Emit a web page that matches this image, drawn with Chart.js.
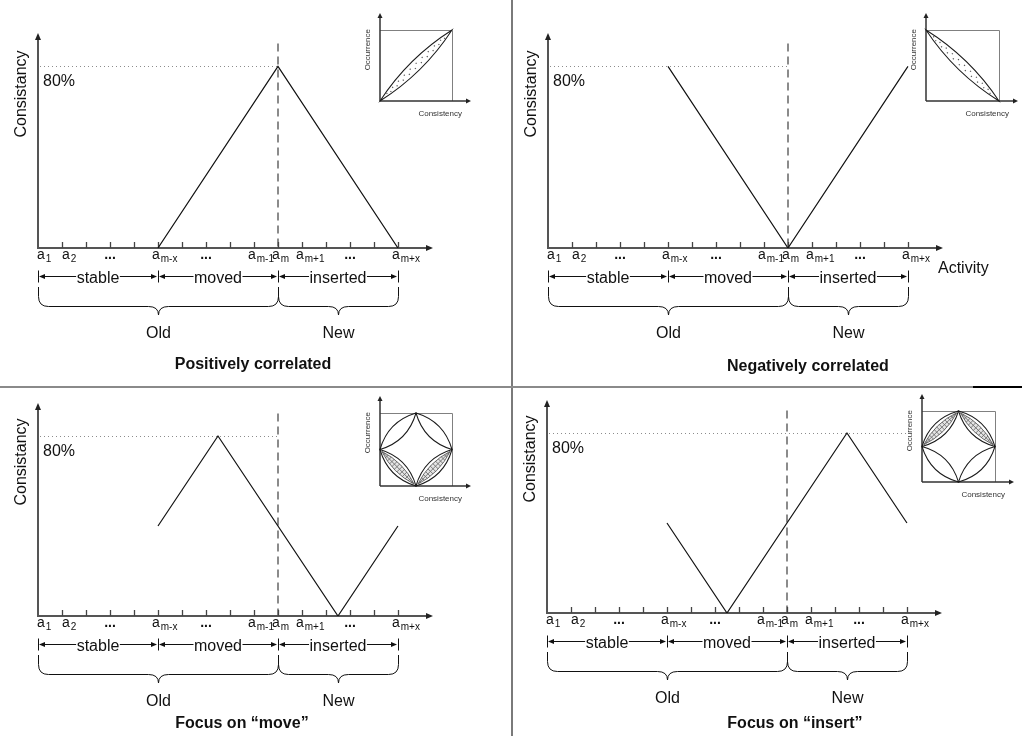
<!DOCTYPE html>
<html>
<head>
<meta charset="utf-8">
<script src="https://cdn.jsdelivr.net/npm/chart.js@4/dist/chart.umd.min.js"></script>
<style>
  html, body { margin: 0; padding: 0; background: #fff; }
  #stage { position: relative; width: 1025px; height: 736px; overflow: hidden; background: #fff; }
  #stage canvas { position: absolute; left: 0; top: 0; }
  .rule { position: absolute; }
</style>
</head>
<body>
<div id="stage">
  <div class="rule" style="left:511px;top:0;width:2px;height:736px;background:#7a7a7a"></div>
  <div class="rule" style="left:0;top:386px;width:973px;height:2px;background:#8a8a8a"></div>
  <div class="rule" style="left:973px;top:386px;width:49px;height:2px;background:#000"></div>
</div>
<script>
const FONT = '"Liberation Sans", Arial, Helvetica, sans-serif';

// Activities along the horizontal axis: a1 ... a(m+x)
const activityCount = 15;      // index of a(m+x)
const pivotActivity = 10;      // index of a(m), first activity of the new model
const tickPositions = [0, 1, 3, 5, 7, 9, 10, 11, 13, 15];
const tickBase      = ['a', 'a', '...', 'a', '...', 'a', 'a', 'a', '...', 'a'];
const tickSub       = ['1', '2', '', 'm-x', '', 'm-1', 'm', 'm+1', '', 'm+x'];

// Ranges under the axis
const segmentBounds = [0, 5, 10, 15];
const segmentNames  = ['stable', 'moved', 'inserted'];
const groupBounds   = [0, 10, 15];
const groupNames    = ['Old', 'New'];

const thresholdValue = 80;
const thresholdLabel = '80%';
const yAxisTitle = 'Consistancy';
const xAxisTitle = 'Activity';

// Consistency per activity for each scenario
const positiveX = [5, 10, 15];
const positiveY = [0, 80, 0];
const negativeX = [5, 10, 15];
const negativeY = [80, 0, 80];
const moveX   = [5, 7.5, 12.5, 15];
const moveY   = [40, 80, 0, 40];
const insertX = [5, 7.5, 12.5, 15];
const insertY = [40, 0, 80, 40];

const panelTitles = ['Positively correlated', 'Negatively correlated',
                     'Focus on \u201cmove\u201d', 'Focus on \u201cinsert\u201d'];

// Occurrence vs consistency sketches: lobes given by their two end points
const lobesPositive = [[0, 0, 1, 1]];
const lobesNegative = [[0, 1, 1, 0]];
const lobesDiamond  = [[0, 0.5, 0.5, 1], [0.5, 1, 1, 0.5], [0, 0.5, 0.5, 0], [0.5, 0, 1, 0.5]];
const fillPositive = ['dots'];
const fillNegative = ['dots'];
const fillMove     = ['plain', 'plain', 'hatch', 'hatch'];
const fillInsert   = ['hatch', 'hatch', 'plain', 'plain'];

const W = 1025, H = 736;
const X_MAX = 16.46, Y_MAX = 94.67;

const panels = [
  { xs: positiveX, ys: positiveY, title: panelTitles[0], area: { left: 38,  top: 33,  right: 433, bottom: 248 }, thresholdTo: 10, titleAt: 8.96, titleDy: 121, showXTitle: false },
  { xs: negativeX, ys: negativeY, title: panelTitles[1], area: { left: 548, top: 33,  right: 943, bottom: 248 }, thresholdTo: 10, titleAt: 10.83, titleDy: 123, showXTitle: true },
  { xs: moveX,     ys: moveY,     title: panelTitles[2], area: { left: 38,  top: 403, right: 433, bottom: 616 }, thresholdTo: 10, titleAt: 8.5,  titleDy: 112, showXTitle: false },
  { xs: insertX,   ys: insertY,   title: panelTitles[3], area: { left: 547, top: 400, right: 942, bottom: 613 }, thresholdTo: 15, titleAt: 10.33, titleDy: 115, showXTitle: false }
];

const insets = [
  { lobes: lobesPositive, fills: fillPositive, area: { left: 380, top: 30,  right: 452, bottom: 101 }, lobeWidth: 11 },
  { lobes: lobesNegative, fills: fillNegative, area: { left: 926, top: 30,  right: 999, bottom: 101 }, lobeWidth: 11 },
  { lobes: lobesDiamond,  fills: fillMove,     area: { left: 380, top: 413, right: 452, bottom: 486 }, lobeWidth: 14 },
  { lobes: lobesDiamond,  fills: fillInsert,   area: { left: 922, top: 411, right: 995, bottom: 482 }, lobeWidth: 14 }
];

const stage = document.getElementById('stage');
function makeCanvas() {
  const c = document.createElement('canvas');
  c.width = W; c.height = H;
  c.style.width = W + 'px'; c.style.height = H + 'px';
  stage.appendChild(c);
  return c;
}

function arrowHead(ctx, x, y, ang, len, half) {
  ctx.save();
  ctx.translate(x, y);
  ctx.rotate(ang);
  ctx.beginPath();
  ctx.moveTo(0, 0);
  ctx.lineTo(-len, -half);
  ctx.lineTo(-len, half);
  ctx.closePath();
  ctx.fill();
  ctx.restore();
}

function drawBrace(ctx, x1, x2, y0, ym, tip) {
  const xc = (x1 + x2) / 2, r = 10;
  ctx.beginPath();
  ctx.moveTo(x1, y0);
  ctx.lineTo(x1, ym - r);
  ctx.quadraticCurveTo(x1, ym, x1 + r, ym);
  ctx.lineTo(xc - r, ym);
  ctx.quadraticCurveTo(xc, ym, xc, tip);
  ctx.quadraticCurveTo(xc, ym, xc + r, ym);
  ctx.lineTo(x2 - r, ym);
  ctx.quadraticCurveTo(x2, ym, x2, ym - r);
  ctx.lineTo(x2, y0);
  ctx.stroke();
}

// lens outline between (-hl,0) and (hl,0) in local coordinates, bulging by w/2
function lensPath(ctx, hl, w) {
  ctx.beginPath();
  ctx.moveTo(-hl, 0);
  ctx.quadraticCurveTo(0, -w, hl, 0);
  ctx.quadraticCurveTo(0, w, -hl, 0);
  ctx.closePath();
}

function panelDecor(p) {
  return {
    id: 'panelDecor',
    beforeDatasetsDraw(chart) {
      const { ctx, scales: { x, y } } = chart;
      const L = x.getPixelForValue(0), R = x.getPixelForValue(x.max);
      const B = y.getPixelForValue(0), T = y.getPixelForValue(y.max);
      ctx.save();
      // threshold guide
      const ty = Math.round(y.getPixelForValue(thresholdValue)) + 0.5;
      ctx.strokeStyle = '#8c8c8c'; ctx.lineWidth = 1; ctx.setLineDash([1, 3]);
      ctx.beginPath(); ctx.moveTo(L + 2, ty); ctx.lineTo(x.getPixelForValue(p.thresholdTo), ty); ctx.stroke();
      // boundary between old and new activities
      const mx = Math.round(x.getPixelForValue(pivotActivity));
      ctx.strokeStyle = '#666'; ctx.lineWidth = 1.5; ctx.setLineDash([8, 5]);
      ctx.beginPath(); ctx.moveTo(mx, y.getPixelForValue(90)); ctx.lineTo(mx, B); ctx.stroke();
      ctx.setLineDash([]);
      // axes
      ctx.strokeStyle = '#555'; ctx.fillStyle = '#222'; ctx.lineWidth = 2;
      ctx.beginPath();
      ctx.moveTo(L, B); ctx.lineTo(L, T + 5);
      ctx.moveTo(L - 1, B); ctx.lineTo(R - 5, B);
      ctx.stroke();
      arrowHead(ctx, L, T, -Math.PI / 2, 7, 3);
      arrowHead(ctx, R, B, 0, 7, 3);
      // tick marks
      ctx.lineWidth = 1.3; ctx.strokeStyle = '#444';
      ctx.beginPath();
      for (let i = 1; i <= activityCount; i++) {
        const px = Math.round(x.getPixelForValue(i)) + 0.5;
        ctx.moveTo(px, B); ctx.lineTo(px, B - 6);
      }
      ctx.stroke();
      ctx.restore();
    },
    afterDraw(chart) {
      const { ctx, scales: { x, y } } = chart;
      const L = x.getPixelForValue(0), R = x.getPixelForValue(x.max);
      const B = y.getPixelForValue(0);
      const px = v => Math.round(x.getPixelForValue(v));
      ctx.save();
      ctx.fillStyle = '#111'; ctx.strokeStyle = '#111';

      // threshold label
      ctx.font = '16px ' + FONT; ctx.textAlign = 'left'; ctx.textBaseline = 'alphabetic';
      ctx.fillText(thresholdLabel, L + 5, y.getPixelForValue(thresholdValue) + 20);

      // y axis title
      ctx.save();
      ctx.translate(L - 16, B - 154);
      ctx.rotate(-Math.PI / 2);
      ctx.textAlign = 'center'; ctx.textBaseline = 'middle';
      ctx.fillText(yAxisTitle, 0, 0);
      ctx.restore();

      if (p.showXTitle) {
        ctx.textAlign = 'left';
        ctx.fillText(xAxisTitle, R - 5, B + 25);
      }

      // activity labels
      tickPositions.forEach((v, i) => {
        const tx = px(v);
        if (tickBase[i] === '...') {
          ctx.font = 'bold 14px ' + FONT; ctx.textAlign = 'center';
          ctx.fillText('...', tx, B + 11);
          return;
        }
        const off = i < 2 ? (i === 0 ? -1 : 0) : -6;
        ctx.font = '14px ' + FONT; ctx.textAlign = 'left';
        ctx.fillText(tickBase[i], tx + off, B + 11);
        const aw = ctx.measureText(tickBase[i]).width;
        ctx.font = '10px ' + FONT;
        ctx.fillText(tickSub[i], tx + off + aw + 1, B + 14);
      });

      // ranges with double-headed arrows
      const ry = B + 28 + 0.5;
      ctx.font = '16px ' + FONT; ctx.textAlign = 'center'; ctx.textBaseline = 'alphabetic';
      ctx.lineWidth = 1;
      segmentNames.forEach((name, s) => {
        const xa = px(segmentBounds[s]), xb = px(segmentBounds[s + 1]);
        const xc = (xa + xb) / 2;
        const tw = ctx.measureText(name).width;
        ctx.beginPath();
        ctx.moveTo(xa + 2, ry); ctx.lineTo(xc - tw / 2 - 0.5, ry);
        ctx.moveTo(xc + tw / 2 + 0.5, ry); ctx.lineTo(xb - 2, ry);
        ctx.stroke();
        arrowHead(ctx, xa + 1, ry, Math.PI, 6, 2.5);
        arrowHead(ctx, xb - 1, ry, 0, 6, 2.5);
        ctx.fillText(name, xc, ry + 6);
      });
      ctx.beginPath();
      segmentBounds.forEach(v => {
        const bx = px(v) + 0.5;
        ctx.moveTo(bx, ry - 6); ctx.lineTo(bx, ry + 6);
      });
      ctx.stroke();

      // braces for old / new
      for (let g = 0; g < groupNames.length; g++) {
        const x1 = px(groupBounds[g]) + 0.5, x2 = px(groupBounds[g + 1]) + 0.5;
        drawBrace(ctx, x1, x2, B + 39, B + 58.5, B + 67);
        ctx.fillText(groupNames[g], (x1 + x2) / 2, B + 90);
      }

      // panel title
      ctx.font = 'bold 16px ' + FONT;
      ctx.fillText(p.title, x.getPixelForValue(p.titleAt), B + p.titleDy);
      ctx.restore();
    }
  };
}

panels.forEach(p => {
  const a = p.area;
  new Chart(makeCanvas(), {
    type: 'line',
    data: {
      datasets: [{
        data: p.xs.map((v, i) => ({ x: v, y: p.ys[i] })),
        borderColor: '#111',
        borderWidth: 1.2,
        pointRadius: 0,
        tension: 0,
        fill: false
      }]
    },
    options: {
      responsive: false,
      animation: false,
      devicePixelRatio: 1,
      events: [],
      layout: { padding: { left: a.left, top: a.top, right: W - a.right, bottom: H - a.bottom } },
      scales: {
        x: { type: 'linear', min: 0, max: X_MAX, display: false },
        y: { type: 'linear', min: 0, max: Y_MAX, display: false }
      },
      plugins: { legend: { display: false }, tooltip: { enabled: false } }
    },
    plugins: [panelDecor(p)]
  });
});

function insetDecor(s) {
  return {
    id: 'insetDecor',
    afterDraw(chart) {
      const { ctx, chartArea: a, scales: { x, y } } = chart;
      ctx.save();
      // frame
      ctx.strokeStyle = '#808080'; ctx.lineWidth = 1;
      ctx.beginPath();
      ctx.moveTo(a.left, a.top + 0.5); ctx.lineTo(a.right + 0.5, a.top + 0.5); ctx.lineTo(a.right + 0.5, a.bottom);
      ctx.stroke();
      ctx.strokeStyle = '#333'; ctx.fillStyle = '#222'; ctx.lineWidth = 1.5;
      ctx.beginPath();
      ctx.moveTo(a.left, a.bottom); ctx.lineTo(a.left, a.top - 13);
      ctx.moveTo(a.left, a.bottom); ctx.lineTo(a.right + 15, a.bottom);
      ctx.stroke();
      arrowHead(ctx, a.left, a.top - 17, -Math.PI / 2, 5, 2.5);
      arrowHead(ctx, a.right + 19, a.bottom, 0, 5, 2.5);

      // lobes
      s.lobes.forEach((l, i) => {
        const x1 = x.getPixelForValue(l[0]), y1 = y.getPixelForValue(l[1]);
        const x2 = x.getPixelForValue(l[2]), y2 = y.getPixelForValue(l[3]);
        const cx = (x1 + x2) / 2, cy = (y1 + y2) / 2;
        const ang = Math.atan2(y2 - y1, x2 - x1);
        const hl = Math.hypot(x2 - x1, y2 - y1) / 2, w = s.lobeWidth;
        ctx.save();
        ctx.translate(cx, cy); ctx.rotate(ang);
        if (s.fills[i] === 'hatch') {
          const ihl = hl * 0.9, iw = w * 0.55;
          ctx.save();
          lensPath(ctx, ihl, iw);
          ctx.fillStyle = '#e4e4e4'; ctx.fill();
          ctx.clip();
          ctx.strokeStyle = '#6a6a6a'; ctx.lineWidth = 0.8;
          ctx.beginPath();
          for (let t = -ihl; t <= ihl; t += 3.6) { ctx.moveTo(t, -iw); ctx.lineTo(t, iw); }
          ctx.moveTo(-ihl, 0); ctx.lineTo(ihl, 0);
          ctx.stroke();
          ctx.restore();
          ctx.strokeStyle = '#555'; ctx.lineWidth = 0.8;
          lensPath(ctx, ihl, iw); ctx.stroke();
        } else if (s.fills[i] === 'dots') {
          ctx.fillStyle = '#555';
          let k = 0;
          for (let t = -hl * 0.8; t <= hl * 0.8; t += 4.2, k++) {
            const off = (k % 2 ? 1.6 : -1.6) * (1 - (t / hl) * (t / hl));
            ctx.fillRect(t - 0.5, off - 0.5, 1.2, 1.2);
          }
        }
        ctx.strokeStyle = '#1a1a1a'; ctx.lineWidth = 1;
        lensPath(ctx, hl, w); ctx.stroke();
        ctx.restore();
      });

      // axis names
      ctx.fillStyle = '#333';
      ctx.font = '8px ' + FONT;
      ctx.save();
      ctx.translate(a.left - 10, a.top - 1);
      ctx.rotate(-Math.PI / 2);
      ctx.textAlign = 'right'; ctx.textBaseline = 'alphabetic';
      ctx.fillText('Occurrence', 0, 0);
      ctx.restore();
      ctx.textAlign = 'right'; ctx.textBaseline = 'alphabetic';
      ctx.fillText('Consistency', a.right + 10, a.bottom + 15);
      ctx.restore();
    }
  };
}

insets.forEach(s => {
  const a = s.area;
  new Chart(makeCanvas(), {
    type: 'scatter',
    data: { datasets: [] },
    options: {
      responsive: false,
      animation: false,
      devicePixelRatio: 1,
      events: [],
      layout: { padding: { left: a.left, top: a.top, right: W - a.right, bottom: H - a.bottom } },
      scales: {
        x: { type: 'linear', min: 0, max: 1, display: false },
        y: { type: 'linear', min: 0, max: 1, display: false }
      },
      plugins: { legend: { display: false }, tooltip: { enabled: false } }
    },
    plugins: [insetDecor(s)]
  });
});
</script>
</body>
</html>
